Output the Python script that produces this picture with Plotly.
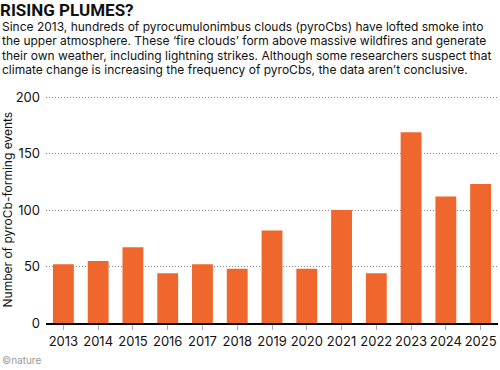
import plotly.graph_objects as go

years = ["2013", "2014", "2015", "2016", "2017", "2018", "2019", "2020", "2021", "2022", "2023", "2024", "2025"]
events = [52, 55, 67, 44, 52, 48, 82, 48, 100, 44, 169, 112, 123]
y_ticks = [0, 50, 100, 150, 200]

title = "RISING PLUMES?"
body_lines = [
    "Since 2013, hundreds of pyrocumulonimbus clouds (pyroCbs) have lofted smoke into",
    "the upper atmosphere. These \u2018fire clouds\u2019 form above massive wildfires and generate",
    "their own weather, including lightning strikes. Although some researchers suspect that",
    "climate change is increasing the frequency of pyroCbs, the data aren\u2019t conclusive.",
]
y_title = "Number of pyroCb-forming events"
credit = "\u00a9nature"

W, H = 500, 370
ML, MR, MT, MB = 46, 2, 96, 47
PH = H - MT - MB
PW = W - ML - MR

def py(ypx):
    return (H - MB - ypx) / PH

def px(xpx):
    return (xpx - ML) / PW

BODY_FONT = "Inter, Roboto, sans-serif"
fig = go.Figure(go.Bar(x=years, y=events, marker=dict(color="#F0672E", line=dict(width=0))))

ann = [dict(text=f"<b>{title}</b>", x=px(-1), y=py(10), xref="paper", yref="paper",
            xanchor="left", yanchor="middle", showarrow=False, borderpad=0,
            font=dict(family="Roboto, sans-serif", size=17, color="#111"))]
for i, line in enumerate(body_lines):
    ann.append(dict(text=line, x=px(0), y=py(26 + i * 14.6), xref="paper", yref="paper",
                    xanchor="left", yanchor="middle", showarrow=False,
                    font=dict(family=BODY_FONT, size=12, color="#111")))
ann.append(dict(text=y_title, x=px(7), y=0.5, xref="paper", yref="paper", textangle=-90,
                xanchor="center", yanchor="middle", showarrow=False,
                font=dict(family=BODY_FONT, size=12, color="#111")))
ann.append(dict(text=credit, x=px(0), y=py(360), xref="paper", yref="paper",
                xanchor="left", yanchor="middle", showarrow=False,
                font=dict(family=BODY_FONT, size=10, color="#999")))

fig.update_layout(
    width=W, height=H, margin=dict(l=ML, r=MR, t=MT, b=MB),
    paper_bgcolor="white", plot_bgcolor="white",
    showlegend=False, bargap=0.4,
    annotations=ann,
    xaxis=dict(type="category", range=[-0.5, 12.5], showline=True, linecolor="black", linewidth=2,
               ticks="outside", ticklen=5, tickcolor="#aaa", tickwidth=1,
               tickfont=dict(family=BODY_FONT, size=13, color="#111"), showgrid=False),
    yaxis=dict(range=[0, 201], tickvals=y_ticks, showgrid=True, gridcolor="#888", griddash="1px,2px",
               gridwidth=1, zeroline=False, showline=False, ticks="", ticklabelstandoff=5,
               tickfont=dict(family=BODY_FONT, size=13, color="#111")),
)
fig.write_html("out.html")
